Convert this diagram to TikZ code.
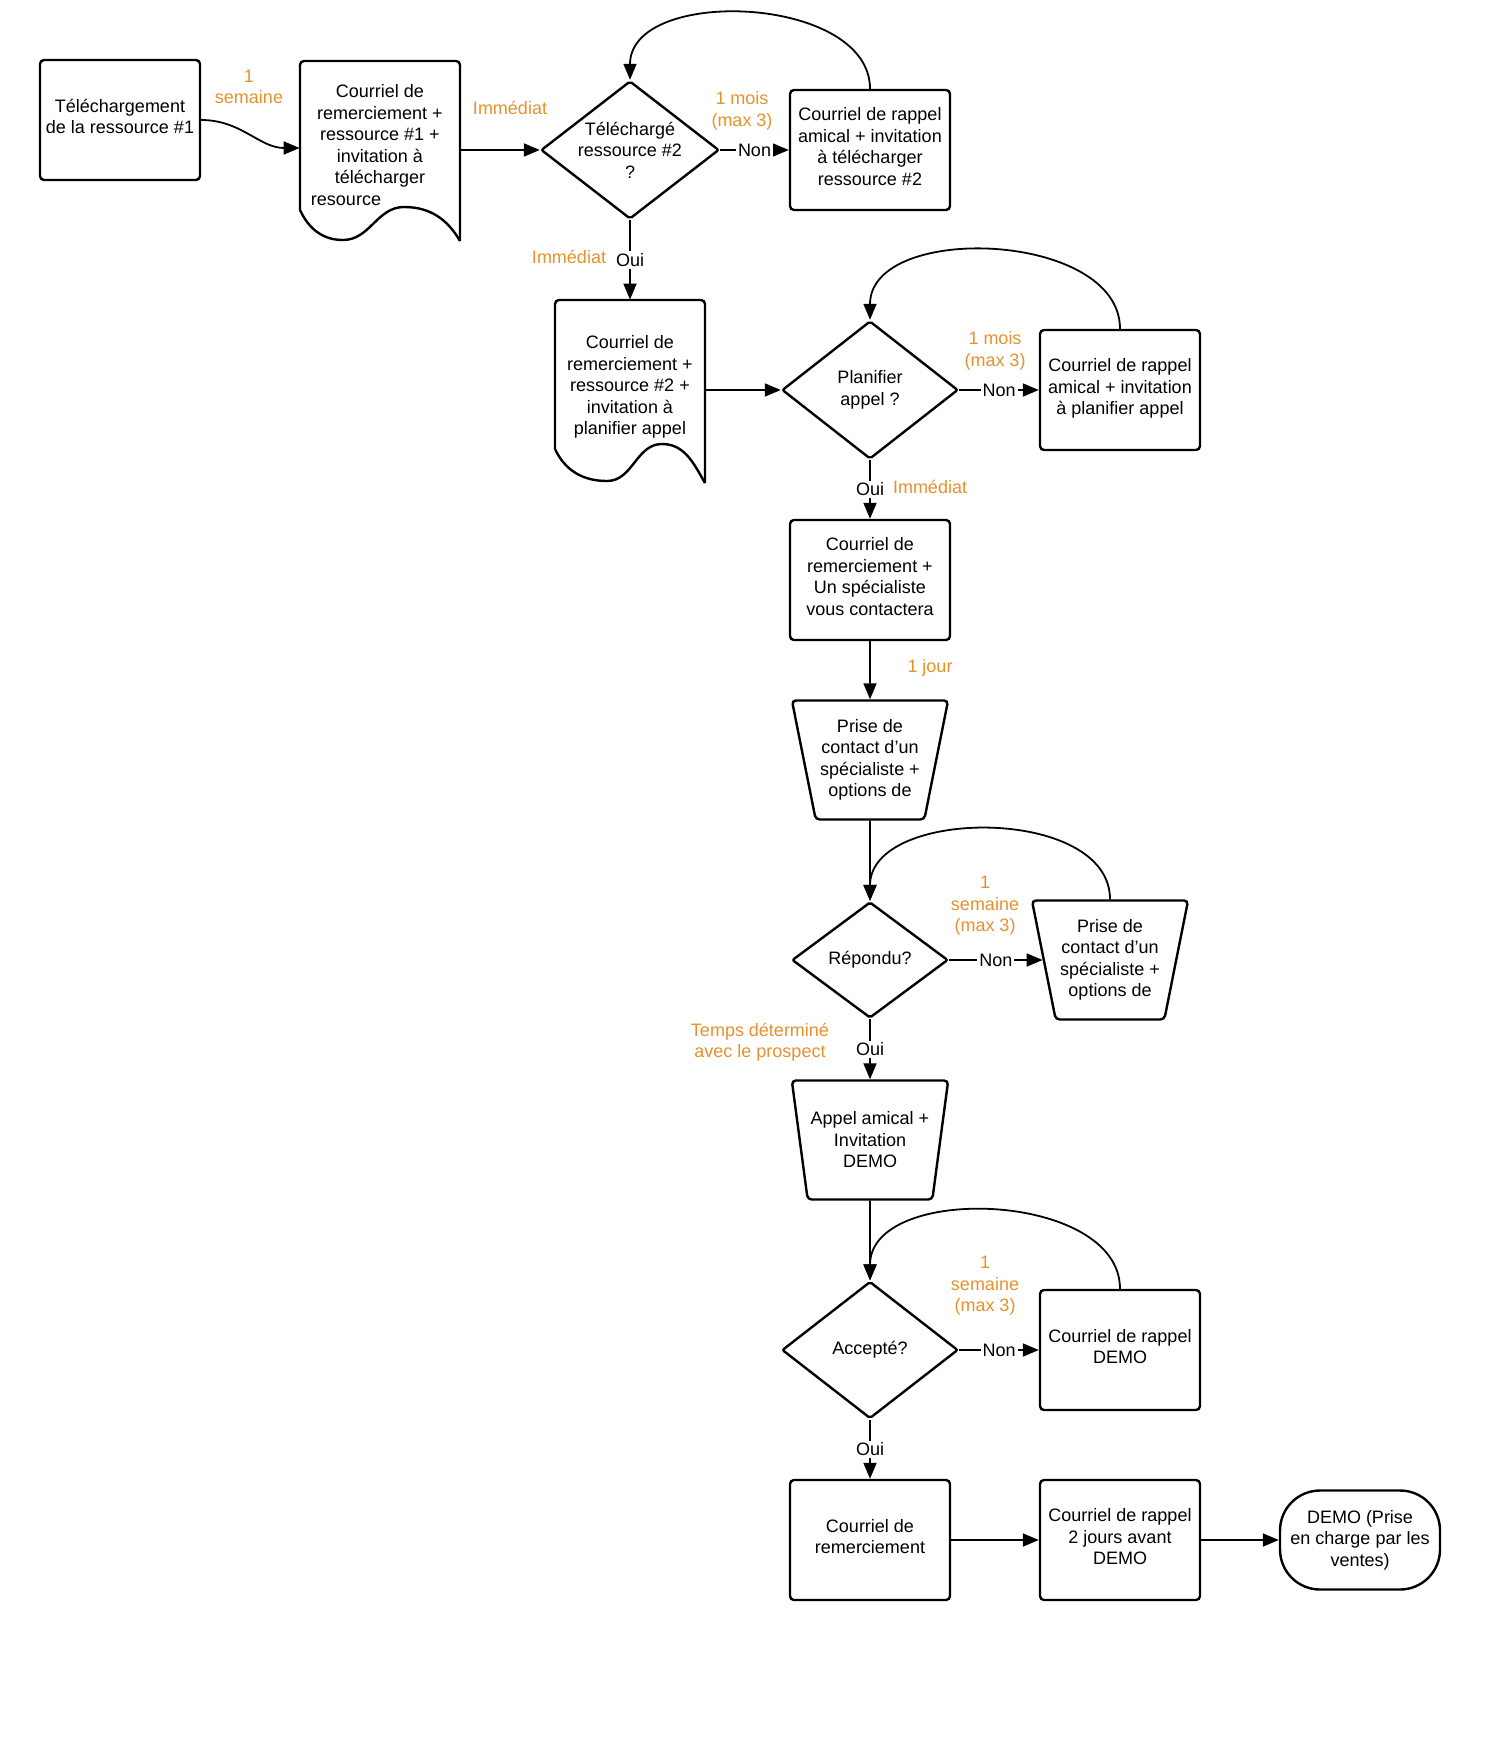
\documentclass[tikz,border=0pt]{standalone}
\usepackage{fontspec}
\setmainfont{Liberation Sans}
\usetikzlibrary{shapes.geometric, arrows.meta}
\definecolor{orangelbl}{RGB}{230,145,45}
\tikzset{
	boite/.style = {draw, line width=1.2pt, rounded corners=2pt, minimum width=80pt, minimum height=60pt, align=center, inner sep=0pt, text depth=3.5pt},
	doc/.style = {minimum width=80pt, align=center, inner sep=0pt},
	losange/.style = {draw, diamond, line width=1.2pt, rounded corners=1pt, aspect=1.3, inner sep=0pt, align=center},
	trapeze/.style = {draw, trapezium, shape border rotate=180, trapezium left angle=75, trapezium right angle=75, trapezium stretches=true, minimum width=78.5pt, minimum height=59.5pt, line width=1.2pt, rounded corners=2pt, align=center, inner sep=0pt},
	fleche/.style = {line width=0.9pt, -{Triangle[length=8pt,width=6.5pt]}},
	etiq/.style = {text=orangelbl, align=center, inner sep=1pt},
	rep/.style = {fill=white, inner sep=1pt},
	contour/.style = {line width=1.2pt}
}
\begin{document}
\begin{tikzpicture}[x=0.5pt, y=-0.5pt, font=\fontsize{9}{10.75}\selectfont]
	\useasboundingbox (0,0) rectangle (1508,1760);
	\node [boite] (tel1) at (120,120) {Téléchargement\\de la ressource \#1};
	\node [doc, minimum height=84pt] (doc1) at (380,145) {Courriel de\\remerciement +\\ressource \#1 +\\invitation à\\télécharger\\resource\hspace*{34pt}};
	\draw [contour, rounded corners=2pt] (300,210) -- (300,61) -- (460,61) -- (460,241);
	\draw [contour] (300,210) to[out=-65,in=180] (343,240) to[out=0,in=180] (404,207) to[out=0,in=120] (460,241);
	\node [losange, minimum width=89pt, minimum height=69pt] (dia1) at (630,150) {Téléchargé\\ressource \#2\\?};
	\node [boite] (rap1) at (870,150) {Courriel de rappel\\amical + invitation\\à télécharger\\ressource \#2};
	\node [doc, minimum width=75pt, minimum height=87pt] (doc2) at (630,387) {Courriel de\\remerciement +\\ressource \#2 +\\invitation à\\planifier appel};
	\draw [contour, rounded corners=2pt] (555,449) -- (555,300) -- (705,300) -- (705,483);
	\draw [contour] (555,449) to[out=-65,in=180] (607,481) to[out=0,in=180] (662,444) to[out=0,in=120] (705,483);
	\node [losange, minimum width=88pt, minimum height=69pt] (dia2) at (870,390) {Planifier\\appel ?};
	\node [boite] (rap2) at (1120,390) {Courriel de rappel\\amical + invitation\\à planifier appel};
	\node [boite] (rem3) at (870,580) {Courriel de\\remerciement +\\Un spécialiste\\vous contactera};
	\node [trapeze] (spec1) at (870,760) {Prise de\\contact d'un\\spécialiste +\\options de};
	\node [losange, minimum width=78pt, minimum height=58pt] (dia3) at (870,960) {Répondu?};
	\node [trapeze] (spec2) at (1110,960) {Prise de\\contact d'un\\spécialiste +\\options de};
	\node [trapeze] (app) at (870,1140) {Appel amical +\\Invitation\\DEMO};
	\node [losange, minimum width=88pt, minimum height=68.5pt] (dia4) at (870,1350) {Accepté?};
	\node [boite] (rap3) at (1120,1350) {Courriel de rappel\\DEMO};
	\node [boite] (rem4) at (870,1540) {Courriel de\\remerciement};
	\node [boite] (rap4) at (1120,1540) {Courriel de rappel\\2 jours avant\\DEMO};
	\node [draw, line width=1.2pt, rounded corners=20pt, minimum width=80pt, minimum height=49.5pt, align=center, inner sep=0pt] (demo) at (1360,1540) {DEMO (Prise\\en charge par les\\ventes)};

	\draw [fleche] (tel1.east) to[out=0,in=180] (doc1.west |- 0,148);
	\draw [fleche] (doc1.east |- dia1.west) -- (dia1.west);
	\draw [fleche] (dia1.east) -- node[rep] {Non} (rap1.west);
	\draw [fleche] (rap1.north) to[out=90,in=90] (dia1.north);
	\draw [fleche] (dia1.south) -- node[rep] {Oui} (doc2.north);
	\draw [fleche] (doc2.east |- dia2.west) -- (dia2.west);
	\draw [fleche] (dia2.east) -- node[rep] {Non} (rap2.west);
	\draw [fleche] (rap2.north) to[out=90,in=90] (dia2.north);
	\draw [fleche] (dia2.south) -- node[rep] {Oui} (rem3.north);
	\draw [fleche] (rem3.south) -- (spec1.north);
	\draw [fleche] (spec1.south) -- (dia3.north);
	\draw [fleche] (dia3.east) -- node[rep] {Non} (spec2.west);
	\draw [fleche] (spec2.north) to[out=90,in=90] (dia3.north);
	\draw [fleche] (dia3.south) -- node[rep] {Oui} (app.north);
	\draw [fleche] (app.south) -- (dia4.north);
	\draw [fleche] (dia4.east) -- node[rep] {Non} (rap3.west);
	\draw [fleche] (rap3.north) to[out=90,in=90] (dia4.north);
	\draw [fleche] (dia4.south) -- node[rep] {Oui} (rem4.north);
	\draw [fleche] (rem4.east) -- (rap4.west);
	\draw [fleche] (rap4.east) -- (demo.west);

	\node [etiq] (l1) at (249,87) {1\\semaine};
	\node [etiq] (l2) at (510,108) {Immédiat};
	\node [etiq] (l3) at (742,111) {1 mois\\(max 3)};
	\node [etiq] (l4) at (569,257) {Immédiat};
	\node [etiq] (l5) at (995,351) {1 mois\\(max 3)};
	\node [etiq] (l6) at (930,487) {Immédiat};
	\node [etiq] (l7) at (930,668) {1 jour};
	\node [etiq] (l8) at (985,906) {1\\semaine\\(max 3)};
	\node [etiq] (l9) at (760,1042) {Temps déterminé\\avec le prospect};
	\node [etiq] (l10) at (985,1286) {1\\semaine\\(max 3)};
\end{tikzpicture}
\end{document}
